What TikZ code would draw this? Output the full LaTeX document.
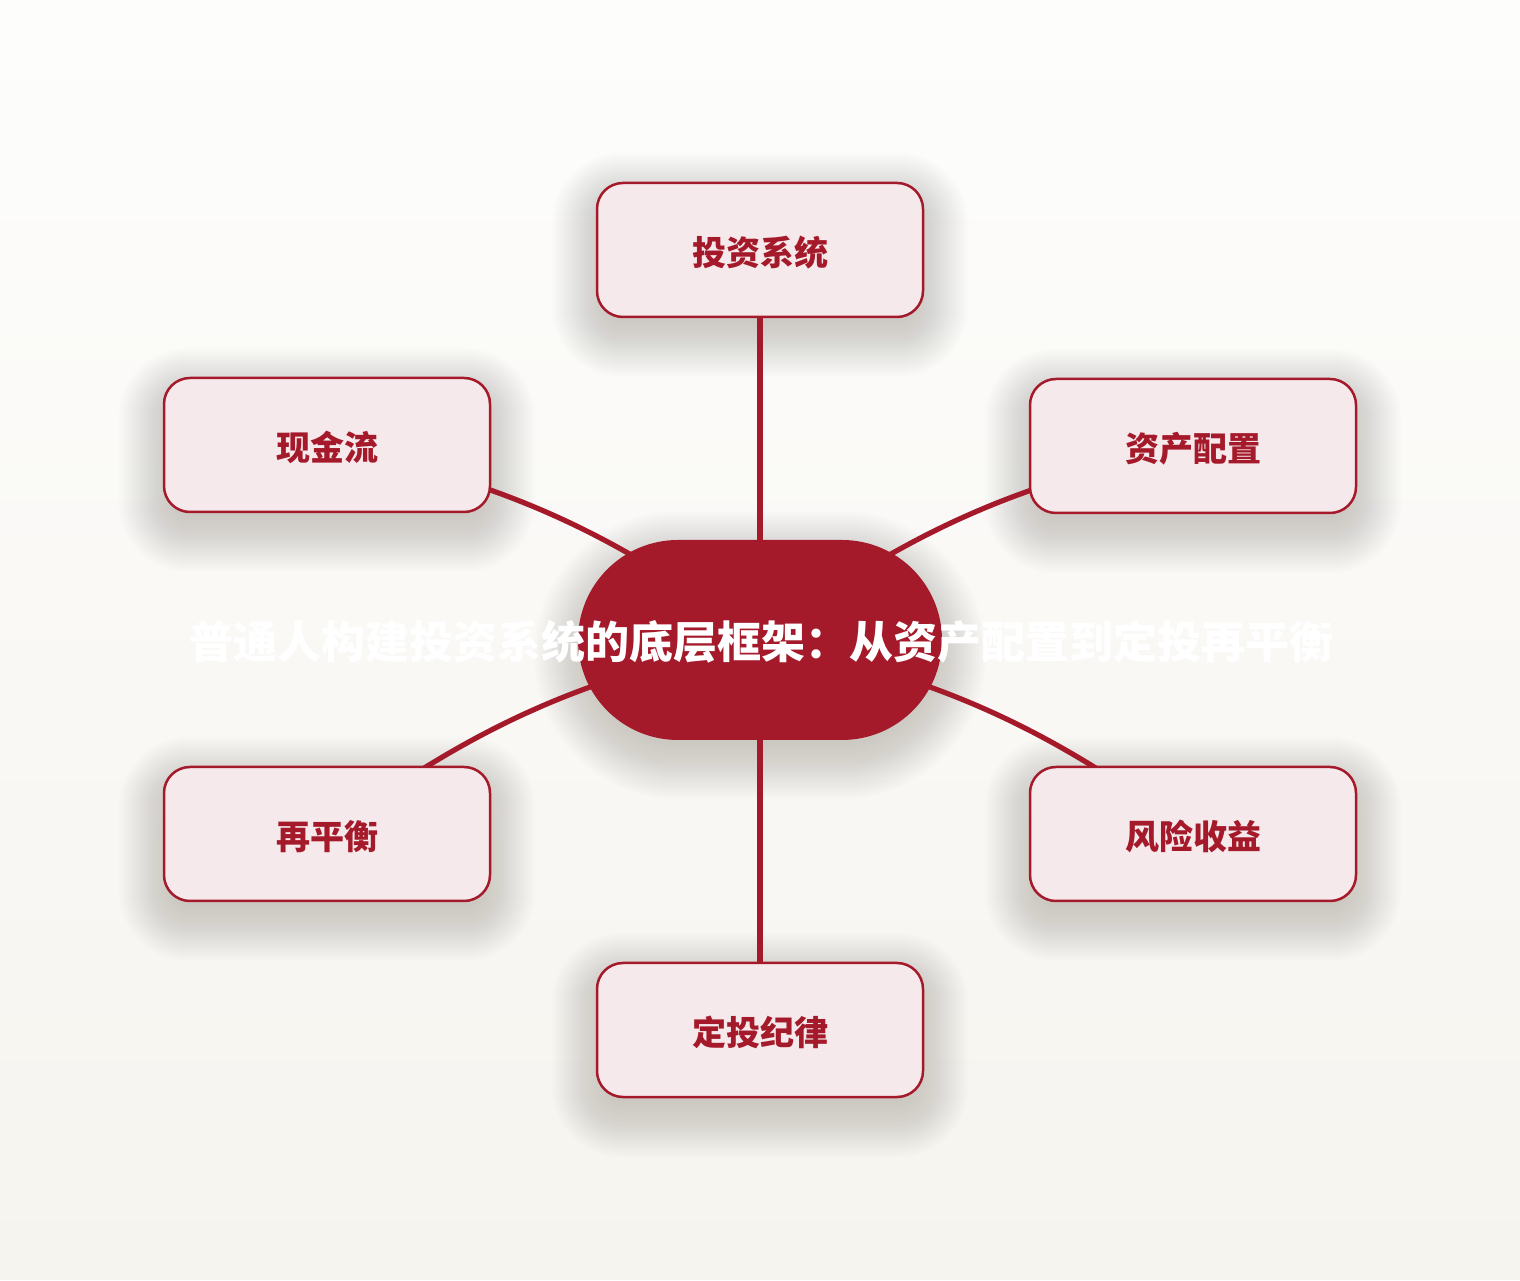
\documentclass[tikz,border=0pt]{standalone}
\usepackage{fontspec}
\newfontfamily\cjk{Noto Sans CJK SC}
\pgfdeclarelayer{bglayer}
\pgfdeclarelayer{shadowlayer}
\pgfdeclarelayer{linelayer}
\pgfsetlayers{bglayer,shadowlayer,linelayer,main}
\definecolor{mred}{HTML}{A51A2A}
\definecolor{pinkfill}{HTML}{F5E9EC}
\definecolor{bgtop}{HTML}{FDFDFC}
\definecolor{bgbot}{HTML}{F6F4EF}
\definecolor{shadowc}{HTML}{5A554C}
\begin{document}
\begin{tikzpicture}[x=1pt,y=1pt,
  leaf/.style={draw=mred, line width=2.5pt, fill=pinkfill, rounded corners=26pt,
    minimum width=326pt, minimum height=134pt, inner sep=0pt,
    text height=36pt, text depth=4pt,
    font=\cjk\bfseries\fontsize{34pt}{40pt}\selectfont, text=mred},
  hub/.style={fill=mred, rounded corners=100pt, minimum width=364pt,
    minimum height=200pt, inner sep=0pt},
  titletext/.style={font=\cjk\bfseries\fontsize{44pt}{50pt}\selectfont, text=white, inner sep=0pt},
  link/.style={draw=mred, line width=5.2pt},
  shadowstep/.style={fill=shadowc, fill opacity=0.007}
]
\useasboundingbox (0,0) rectangle (1520,1280);
\begin{pgfonlayer}{bglayer}
  \foreach \i in {0,...,63}{
    \pgfmathsetmacro\p{100-\i/63*100}
    \fill[bgbot!\p!bgtop] (0,\i*20) rectangle (1520,\i*20+20.6);
  }
\end{pgfonlayer}

\node[hub] (c) at (760,640) {};
\node[leaf] (t)  at (760,1030) {投资系统};
\node[leaf] (tl) at (327,835)  {现金流};
\node[leaf] (tr) at (1193,834) {资产配置};
\node[leaf] (bl) at (327,446)  {再平衡};
\node[leaf] (br) at (1193,446) {风险收益};
\node[leaf] (b)  at (760,250)  {定投纪律};
\node[titletext] (title) at (761,638) {普通人构建投资系统的底层框架：从资产配置到定投再平衡};

\begin{pgfonlayer}{shadowlayer}
  \foreach \n in {t,tl,tr,bl,br,b}{
    \foreach \k in {-6,...,22}{
      \pgfmathsetmacro\d{2*\k}
      \pgfmathsetmacro\r{max(26+\d,4)}
      \path[shadowstep, rounded corners=\r pt]
        ([shift={(-\d pt,-\d pt-15pt)}]\n.south west) rectangle ([shift={(\d pt,\d pt-15pt)}]\n.north east);
    }
  }
  \foreach \k in {-6,...,22}{
    \pgfmathsetmacro\d{2*\k}
    \path[shadowstep, rounded corners={100+\d}]
      ([shift={(-\d pt,-\d pt-15pt)}]c.south west) rectangle ([shift={(\d pt,\d pt-15pt)}]c.north east);
  }
\end{pgfonlayer}

\begin{pgfonlayer}{linelayer}
  \draw[link] (t.center) -- (c.center);
  \draw[link] (b.center) -- (c.center);
  \draw[link] (tl.center) to[bend left=12] (c.center);
  \draw[link] (tr.center) to[bend right=12] (c.center);
  \draw[link] (bl.center) to[bend left=12] (c.center);
  \draw[link] (br.center) to[bend right=12] (c.center);
\end{pgfonlayer}
\end{tikzpicture}
\end{document}
